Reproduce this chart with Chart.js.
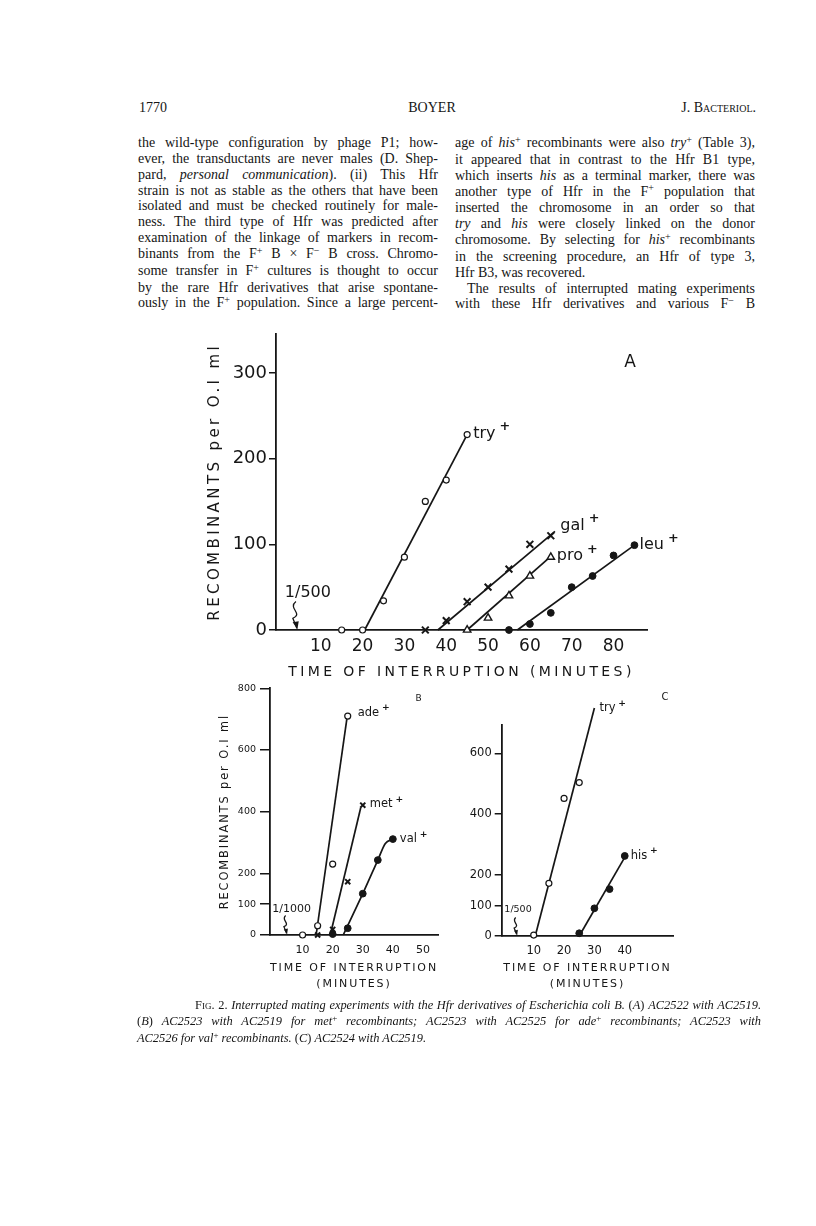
<!DOCTYPE html>
<html>
<head>
<meta charset="utf-8">
<title>Boyer, J. Bacteriol. 1770, Fig. 2</title>
<script src="https://cdn.jsdelivr.net/npm/chart.js@4.4.1/dist/chart.umd.min.js"></script>
<style>
  body { margin: 0; background: #fff; }
  #page { position: relative; width: 816px; height: 1226px; overflow: hidden;
          font-family: "Liberation Serif", "DejaVu Serif", serif; color: #151515; }
  .head { position: absolute; top: 100px; font-size: 14px; line-height: 16px; }
  .col { position: absolute; top: 135px; width: 300px; font-size: 14px; line-height: 15.85px; }
  .col div, #caption div { text-align: justify; text-align-last: justify; white-space: nowrap; }
  .col div.end, #caption div.end { text-align-last: left; }
  .col div.ind { text-indent: 12px; }
  .sp { font-size: 0.72em; position: relative; top: -0.42em; }
  .sc { font-variant: small-caps; }
  #caption { position: absolute; left: 137px; top: 997px; width: 624px; font-size: 12.4px; line-height: 16px; }
  #caption div.first { text-indent: 58px; }
  canvas { position: absolute; }
</style>
</head>
<body>
<div id="page">
  <div class="head" style="left:139px">1770</div>
  <div class="head" style="left:382px;width:100px;text-align:center">BOYER</div>
  <div class="head" style="right:60px">J. <span class="sc">Bacteriol.</span></div>

  <div class="col" style="left:138px">
    <div>the wild-type configuration by phage P1; how-</div>
    <div>ever, the transductants are never males (D. Shep-</div>
    <div>pard, <i>personal communication</i>). (ii) This Hfr</div>
    <div>strain is not as stable as the others that have been</div>
    <div>isolated and must be checked routinely for male-</div>
    <div>ness. The third type of Hfr was predicted after</div>
    <div>examination of the linkage of markers in recom-</div>
    <div>binants from the F<span class="sp">+</span> B × F<span class="sp">−</span> B cross. Chromo-</div>
    <div>some transfer in F<span class="sp">+</span> cultures is thought to occur</div>
    <div>by the rare Hfr derivatives that arise spontane-</div>
    <div>ously in the F<span class="sp">+</span> population. Since a large percent-</div>
  </div>

  <div class="col" style="left:455px">
    <div>age of <i>his</i><span class="sp">+</span> recombinants were also <i>try</i><span class="sp">+</span> (Table 3),</div>
    <div>it appeared that in contrast to the Hfr B1 type,</div>
    <div>which inserts <i>his</i> as a terminal marker, there was</div>
    <div>another type of Hfr in the F<span class="sp">+</span> population that</div>
    <div>inserted the chromosome in an order so that</div>
    <div><i>try</i> and <i>his</i> were closely linked on the donor</div>
    <div>chromosome. By selecting for <i>his</i><span class="sp">+</span> recombinants</div>
    <div>in the screening procedure, an Hfr of type 3,</div>
    <div class="end">Hfr B3, was recovered.</div>
    <div class="ind">The results of interrupted mating experiments</div>
    <div>with these Hfr derivatives and various F<span class="sp">−</span> B</div>
  </div>

  <canvas id="panelA" width="520" height="370" style="left:190px;top:320px"></canvas>
  <canvas id="panelB" width="270" height="320" style="left:190px;top:678px"></canvas>
  <canvas id="panelC" width="280" height="318" style="left:460px;top:680px"></canvas>

  <div id="caption">
    <div class="first"><span class="sc">Fig.</span> 2. <i>Interrupted mating experiments with the Hfr derivatives of Escherichia coli B.</i> (<i>A</i>) <i>AC2522 with AC2519.</i></div>
    <div>(<i>B</i>) <i>AC2523 with AC2519 for met</i><span class="sp">+</span> <i>recombinants; AC2523 with AC2525 for ade</i><span class="sp">+</span> <i>recombinants; AC2523 with</i></div>
    <div class="end"><i>AC2526 for val</i><span class="sp">+</span> <i>recombinants.</i> (<i>C</i>) <i>AC2524 with AC2519.</i></div>
  </div>
</div>

<script>
const ink = '#161616';
const sans = '"DejaVu Sans", sans-serif';

// A: AC2522 x AC2519, recombinants per 0.1 ml against minutes
const tryA = [[15, 0], [20, 0], [25, 34], [30, 85], [35, 150], [40, 175], [45, 228]];
const galA = [[35, 0], [40, 11], [45, 33], [50, 50], [55, 71], [60, 100], [65, 110]];
const proA = [[45, 0], [50, 14], [55, 40], [60, 63], [65, 85]];
const leuA = [[55, 0], [60, 7], [65, 20], [70, 50], [75, 63], [80, 87], [85, 99]];
const tryFitA = [[20.5, 0], [45, 228]];
const galFitA = [[38, 0], [66, 115]];
const proFitA = [[45, 0], [65, 86]];
const leuFitA = [[57, 0], [85, 99]];
const xTicksA = [10, 20, 30, 40, 50, 60, 70, 80];
const yTicksA = [0, 100, 200, 300];

// B: AC2523 crosses
const adeB = [[10, 0], [15, 30], [20, 230], [25, 710]];
const metB = [[15, 0], [20, 18], [25, 173], [30, 421]];
const valB = [[20, 3], [25, 22], [30, 134], [35, 243], [40, 311]];
const adeFitB = [[14.5, 0], [24.7, 700]];
const metFitB = [[19.2, 0], [29.3, 412]];
const valFitB = [[23.5, 0], [30, 134], [35, 243], [37.5, 297], [40, 311]];
const xTicksB = [10, 20, 30, 40, 50];
const yTicksB = [0, 100, 200, 400, 600, 800];

// C: AC2524 x AC2519
const tryC = [[10, 3], [15, 173], [20, 452], [25, 504], [30, 749]];
const hisC = [[25, 9], [30, 91], [35, 154], [40, 263]];
const tryFitC = [[10.5, 0], [30, 749]];
const hisFitC = [[25, 0], [39.8, 255]];
const xTicksC = [10, 20, 30, 40];
const yTicksC = [0, 100, 200, 400, 600];

const pts = rows => rows.map(([x, y]) => ({x, y}));

const ring = {pointStyle: 'circle', pointRadius: 3, pointBorderWidth: 1.2, pointBackgroundColor: '#fff'};
const dot = {pointStyle: 'circle', pointRadius: 3.4, pointBorderWidth: 1, pointBackgroundColor: ink};
const cross = {pointStyle: 'crossRot', pointRadius: 4.8, pointBorderWidth: 2};
const tri = {pointStyle: 'triangle', pointRadius: 4.3, pointBorderWidth: 1.4, pointBackgroundColor: '#fff'};

function marks(rows, look, size) {
  const m = Object.assign({data: pts(rows), showLine: false, clip: false, order: 1, pointBorderColor: ink}, look);
  if (size) m.pointRadius = m.pointRadius * size;
  return m;
}
function fit(rows, extra) {
  return Object.assign({data: pts(rows), showLine: true, clip: false, order: 2,
    borderColor: ink, borderWidth: 1.7, pointRadius: 0, tension: 0}, extra);
}

// titles get wide lettering, tick labels (drawn after datasets, z 1) none
const spacing = {
  id: 'spacing',
  beforeDraw(chart, args, opts) { chart.ctx.letterSpacing = opts.title + 'px'; },
  beforeDatasetsDraw(chart) { chart.ctx.letterSpacing = '0px'; }
};

// series names, panel letter and the dilution note with its wavy arrow
const notes = {
  id: 'notes',
  afterDraw(chart, args, o) {
    const {ctx, chartArea: area, scales: {x, y}} = chart;
    ctx.save();
    ctx.letterSpacing = '0px';
    ctx.fillStyle = ink;
    ctx.strokeStyle = ink;
    ctx.textBaseline = 'middle';
    ctx.textAlign = 'left';
    o.labels.forEach(l => {
      const last = l.series[l.series.length - 1];
      const px = x.getPixelForValue(last[0]) + l.dx;
      const py = y.getPixelForValue(last[1]) + l.dy;
      ctx.font = o.size + 'px ' + sans;
      ctx.fillText(l.text, px, py);
      const w = ctx.measureText(l.text).width;
      ctx.font = 'bold ' + (o.size * 0.8) + 'px ' + sans;
      ctx.fillText('+', px + w + o.size * 0.25, py - o.size * 0.42);
    });

    ctx.textAlign = 'center';
    ctx.font = o.tag.size + 'px ' + sans;
    ctx.fillText(o.tag.text, area.right + o.tag.dx, area.top + o.tag.dy);

    const n = o.note;
    const tx = x.getPixelForValue(n.at), ty = y.getPixelForValue(0) - 1.5;
    const h = n.len;
    ctx.font = n.size + 'px ' + sans;
    ctx.fillText(n.text, tx + n.dx, y.getPixelForValue(0) + n.dy);
    ctx.lineWidth = 1.3;
    ctx.beginPath();
    ctx.moveTo(tx - 1, ty - h);
    ctx.bezierCurveTo(tx - 0.35 * h, ty - 0.75 * h, tx + 0.25 * h, ty - 0.55 * h, tx - 0.15 * h, ty - 0.38 * h);
    ctx.lineTo(tx, ty);
    ctx.stroke();
    const k = h / 22;
    ctx.beginPath();
    ctx.moveTo(tx + 0.5, ty + 0.5);
    ctx.lineTo(tx - 3.5 * k, ty - 5 * k);
    ctx.lineTo(tx + 1.5 * k, ty - 6 * k);
    ctx.closePath();
    ctx.fill();
    ctx.restore();
  }
};

function axes(p) {
  return {
    x: {
      type: 'linear', position: 'bottom', min: p.xMin, max: p.xMax,
      afterBuildTicks: s => { s.ticks = p.xTicks.map(value => ({value})); },
      afterFit: s => { s.height = p.xH; },
      grid: {display: false, drawTicks: false},
      border: {display: true, color: ink, width: 1.8},
      ticks: {color: ink, font: {family: sans, size: p.xFont}, padding: p.xPad, maxRotation: 0, autoSkip: false, z: 1},
      title: {display: true, text: p.xTitle, color: ink, padding: 0,
              font: {family: sans, size: p.tFont, lineHeight: p.tLine}}
    },
    y: {
      type: 'linear', position: 'left', min: 0, max: p.yMax,
      afterBuildTicks: s => { s.ticks = p.yTicks.map(value => ({value})); },
      afterFit: s => { s.width = p.yW; },
      grid: {drawOnChartArea: false, drawTicks: true, tickLength: p.tick, color: ink, lineWidth: 1.5},
      border: {display: true, color: ink, width: 1.8},
      ticks: {color: ink, font: {family: sans, size: p.yFont}, padding: p.yPad, autoSkip: false, z: 1},
      title: {display: !!p.yTitle, text: p.yTitle || '', color: ink, padding: {top: p.yTitlePad || 0, bottom: 0},
              font: {family: sans, size: p.yTitleFont || 12}}
    }
  };
}

function panel(id, datasets, p, labels) {
  return new Chart(document.getElementById(id), {
    type: 'scatter',
    data: {datasets},
    options: {
      responsive: false,
      animation: false,
      devicePixelRatio: 1,
      events: [],
      layout: {padding: p.pad},
      plugins: {legend: {display: false}, tooltip: {enabled: false}, spacing: {title: p.spacing}, notes: labels},
      scales: axes(p)
    },
    plugins: [spacing, notes]
  });
}

panel('panelA', [
  marks(tryA, ring), marks(galA, cross), marks(proA, tri), marks(leuA, dot),
  fit(tryFitA), fit(galFitA), fit(proFitA), fit(leuFitA)
], {
  pad: {top: 13.5, right: 63, bottom: 9.6, left: 0},
  xMin: -0.7, xMax: 88, yMax: 346, xTicks: xTicksA, yTicks: yTicksA,
  xH: 50.4, yW: 86, xFont: 17, yFont: 18, xPad: 6, yPad: 2, tick: 7,
  xTitle: 'TIME OF INTERRUPTION (MINUTES)', tFont: 14, tLine: 1.2,
  yTitle: 'RECOMBINANTS per O.I ml', yTitleFont: 15, yTitlePad: 16, spacing: 3.4
}, {
  size: 16,
  labels: [
    {text: 'try', series: tryA, dx: 6, dy: -1},
    {text: 'gal', series: galA, dx: 9.5, dy: -10},
    {text: 'pro', series: proA, dx: 6, dy: -1},
    {text: 'leu', series: leuA, dx: 5, dy: 0}
  ],
  tag: {text: 'A', size: 17, dx: -17, dy: 29.5},
  note: {text: '1/500', at: 4.3, dx: 11, dy: -37, size: 16, len: 27}
});

panel('panelB', [
  marks(adeB, ring), marks(metB, cross, 0.75), marks(valB, dot),
  fit(adeFitB), fit(metFitB), fit(valFitB, {cubicInterpolationMode: 'monotone'})
], {
  pad: {top: 10.3, right: 22, bottom: 5.5, left: 0},
  xMin: -0.83, xMax: 55, yMax: 800, xTicks: xTicksB, yTicks: yTicksB,
  xH: 57.5, yW: 80, xFont: 11, yFont: 9.5, xPad: 9, yPad: 4, tick: 10,
  xTitle: ['TIME OF INTERRUPTION', '(MINUTES)'], tFont: 11, tLine: '16.5px',
  yTitle: 'RECOMBINANTS per O.I ml', yTitleFont: 11.4, yTitlePad: 28, spacing: 1.9
}, {
  size: 11.5,
  labels: [
    {text: 'ade', series: adeB, dx: 10, dy: -3.5},
    {text: 'met', series: metB, dx: 7, dy: -1},
    {text: 'val', series: valB, dx: 7, dy: 0}
  ],
  tag: {text: 'B', size: 9, dx: -19.3, dy: 10.7},
  note: {text: '1/1000', at: 4.7, dx: 5, dy: -26, size: 11, len: 18}
});

panel('panelC', [
  marks(tryC, ring), marks(hisC, dot),
  fit(tryFitC), fit(hisFitC)
], {
  pad: {top: 44.4, right: 66.7, bottom: 5.5, left: 0},
  xMin: -0.55, xMax: 56, yMax: 695, xTicks: xTicksC, yTicks: yTicksC,
  xH: 56.5, yW: 41.7, xFont: 11.5, yFont: 11.5, xPad: 8, yPad: 3, tick: 7,
  xTitle: ['TIME OF INTERRUPTION', '(MINUTES)'], tFont: 11, tLine: '16.5px',
  spacing: 1.9
}, {
  size: 11.5,
  labels: [
    {text: 'try', series: tryC, dx: 5, dy: 0},
    {text: 'his', series: hisC, dx: 6, dy: 0}
  ],
  tag: {text: 'C', size: 10, dx: -8.3, dy: -27.4},
  note: {text: '1/500', at: 4.4, dx: 1.3, dy: -26, size: 9.5, len: 17}
});
</script>
</body>
</html>
